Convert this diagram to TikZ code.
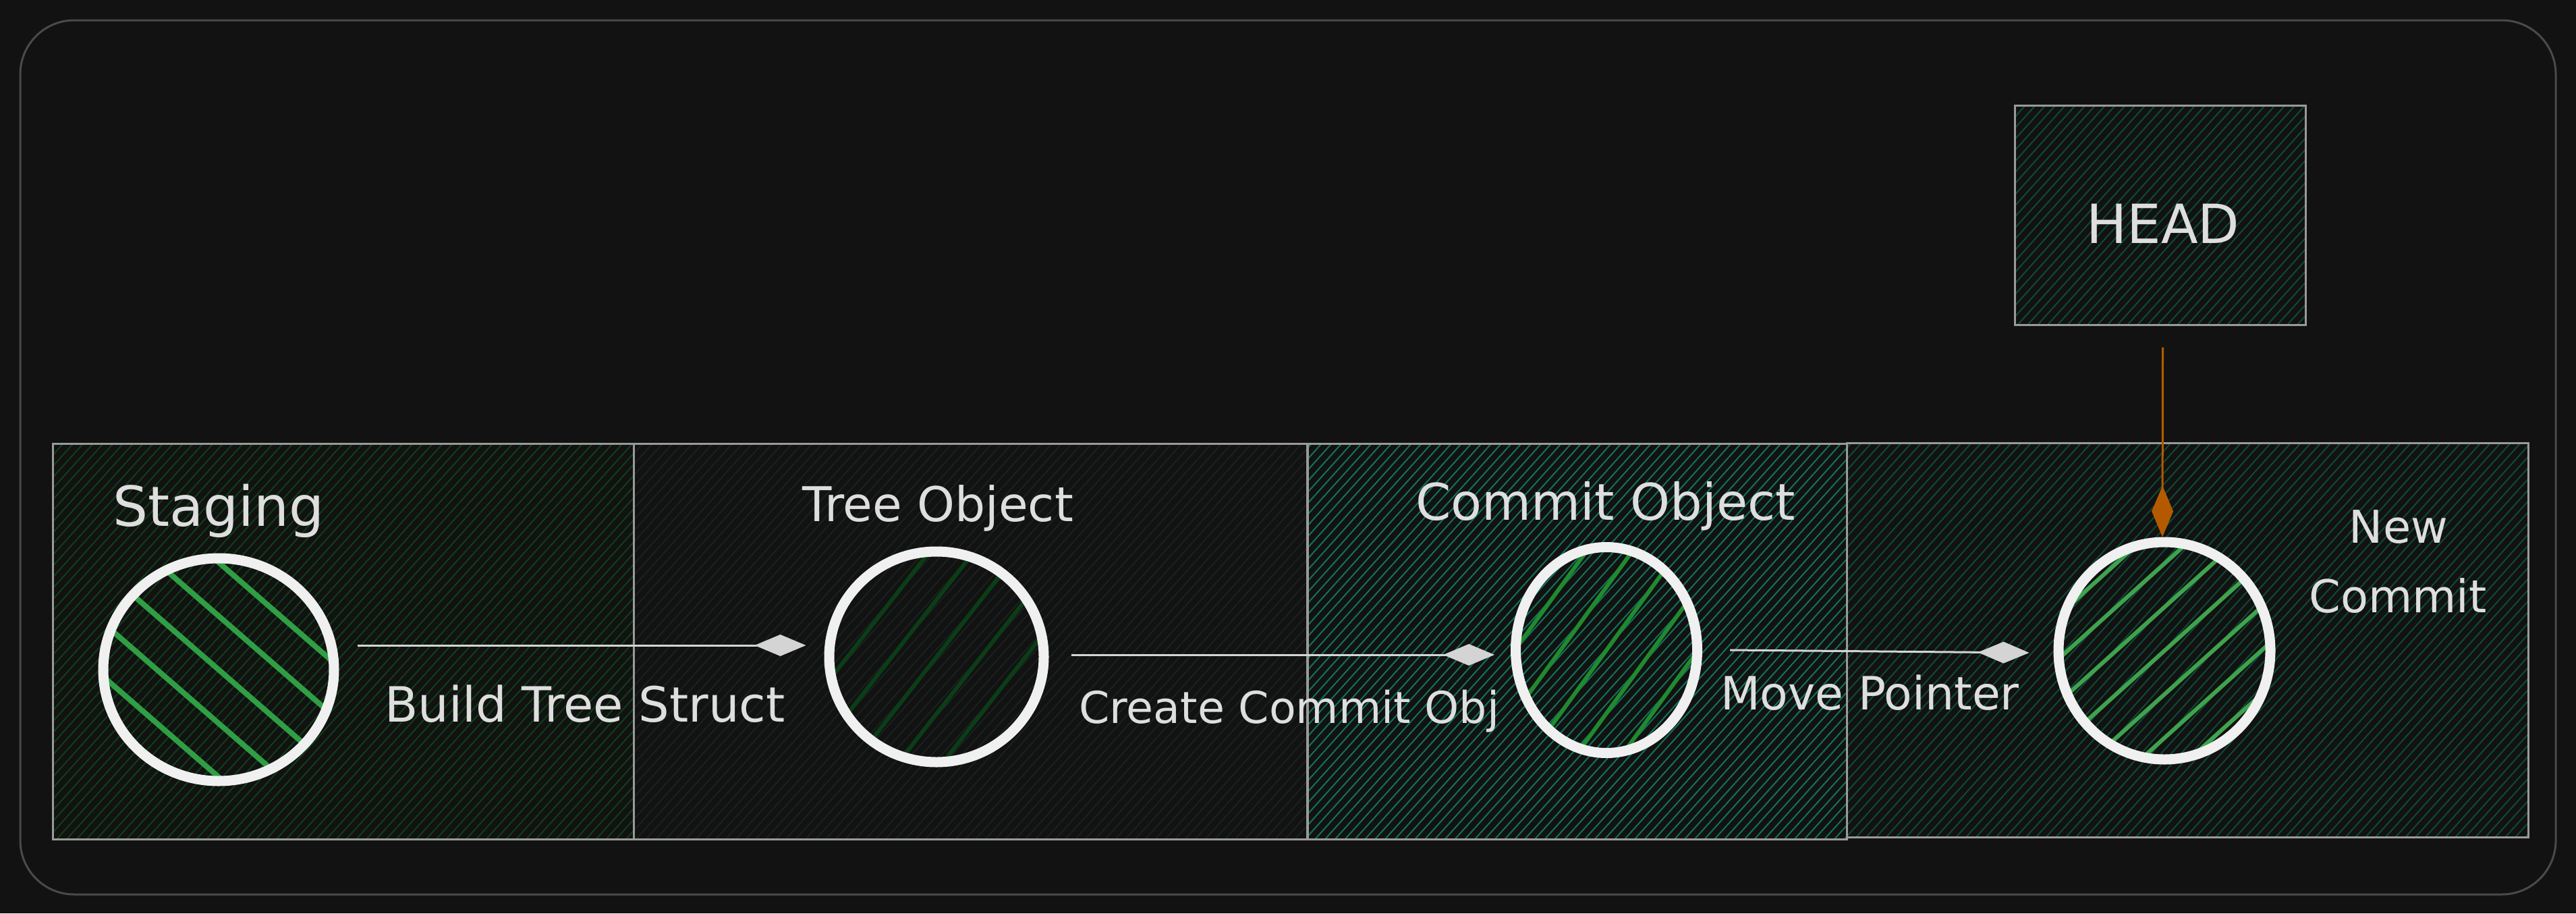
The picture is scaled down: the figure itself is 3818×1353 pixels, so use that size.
\documentclass[tikz,border=0pt]{standalone}
\usepackage{fontspec}
\setmainfont{DejaVu Sans}
\usetikzlibrary{shapes.geometric,arrows.meta,patterns.meta,calc}
\definecolor{bgc}{HTML}{121212}
\definecolor{framec}{HTML}{4A4A4A}
\definecolor{boxc}{HTML}{9A9A9A}
\definecolor{txtc}{HTML}{DEDEDE}
\definecolor{ringc}{HTML}{F0F0F0}
\definecolor{linec}{HTML}{D4D4D4}
\definecolor{orangec}{HTML}{B35A00}
\definecolor{stghat}{HTML}{0F3F18}
\definecolor{trhat}{HTML}{18221E}
\definecolor{cmhat}{HTML}{12735A}
\definecolor{nwhat}{HTML}{0F4A37}
\definecolor{hdhat}{HTML}{0F4A37}
\definecolor{gbright}{HTML}{2F9E44}
\definecolor{gdark}{HTML}{0B3D17}
\definecolor{gmid}{HTML}{1F8A2F}
\definecolor{gnew}{HTML}{3FA34D}
\newcommand\myfs[1]{\fontsize{#1}{#1}\selectfont}
\tikzset{
  box/.style={draw=boxc, line width=3pt, rectangle, inner sep=0pt},
  hatchbox/.style={pattern={Lines[angle=48,distance=11pt,line width=2pt]}, pattern color=#1},
  ring/.style={draw=ringc, line width=15pt, ellipse, inner sep=0pt},
  circhatch/.style n args={4}{path picture={
      \foreach \k in {-6,...,6}
        \draw[#2, line width=#4pt]
          ($(path picture bounding box.center)+({-400*cos(#1)+\k*#3*sin(#1)},{400*sin(#1)+\k*#3*cos(#1)})$) --
          ($(path picture bounding box.center)+({400*cos(#1)+\k*#3*sin(#1)},{-400*sin(#1)+\k*#3*cos(#1)})$);}},
  conn/.style={draw=linec, line width=3pt, -{Diamond[length=76pt,width=32pt,fill=linec]}},
  headconn/.style={draw=orangec, line width=3pt, -{Diamond[length=76pt,width=32pt,fill=orangec,line width=2pt]}},
  lbl/.style={text=txtc, inner sep=0pt, anchor=base west},
  lblc/.style={text=txtc, inner sep=0pt, anchor=base},
}
\begin{document}
\begin{tikzpicture}[x=1pt,y=-1pt]
\useasboundingbox (0,0) rectangle (3818,1353);
\fill[bgc] (0,0) rectangle (3818,1353);
\draw[framec, line width=3pt, rounded corners=80pt] (30,30) rectangle (3788,1325);

% containers
\node[box, hatchbox=stghat, minimum width=861pt, minimum height=586pt] (stg) at (508.5,950) {};
\node[box, hatchbox=trhat, minimum width=998pt, minimum height=586pt] (tr) at (1438,950) {};
\node[box, hatchbox=cmhat, minimum width=799pt, minimum height=586pt] (cm) at (2337.5,950) {};
\node[box, hatchbox=nwhat, minimum width=1010pt, minimum height=584pt] (nw) at (3242,948) {};
\node[box, hatchbox=hdhat, minimum width=431pt, minimum height=325pt] (hd) at (3201.5,318.5) {};

% circles
\node[ring, circhatch={-41}{gbright}{60}{8}, minimum width=342pt, minimum height=330pt] (stgc) at (324,992) {};
\node[ring, circhatch={52}{gdark}{52}{6}, minimum width=318pt, minimum height=312pt] (trc) at (1388,973) {};
\node[ring, circhatch={54}{gmid}{55}{6}, minimum width=269pt, minimum height=305pt] (cmc) at (2381,963) {};
\node[ring, circhatch={42}{gnew}{48}{6}, minimum width=314pt, minimum height=322pt] (nwc) at (3208,964) {};

% connectors
\draw[conn] ([xshift=27pt,yshift=36pt]stgc.east) -- ([xshift=-27pt,yshift=17pt]trc.west);
\draw[conn] ([xshift=33pt,yshift=3pt]trc.east) -- ([xshift=-24pt,yshift=-7pt]cmc.west);
\draw[conn] ([xshift=41pt]cmc.east) -- ([xshift=-36pt,yshift=-3pt]nwc.west);
\draw[headconn] ([xshift=4pt,yshift=-32pt]hd.south) -- ([xshift=-3pt]nwc.north);

% labels
\node[lbl, font=\myfs{82}] (lstg) at (167,779) {Staging};
\node[lbl, font=\myfs{71}] (ltr) at (1189,772) {Tree Object};
\node[lbl, font=\myfs{75}] (lcm) at (2098,770) {Commit Object};
\node[lbl, font=\myfs{72}] (l1) at (570,1069) {Build Tree Struct};
\node[lbl, font=\myfs{65}] (l2) at (1599,1071) {Create Commit Obj};
\node[lbl, font=\myfs{68}] (l3) at (2550,1051) {Move Pointer};
\node[lblc, font=\myfs{67}] (lnw1) at (3555,804) {New};
\node[lblc, font=\myfs{67}] (lnw2) at (3554,907) {Commit};
\node[lblc, font=\myfs{80}] (lhd) at (3206,360) {HEAD};
\end{tikzpicture}
\end{document}
